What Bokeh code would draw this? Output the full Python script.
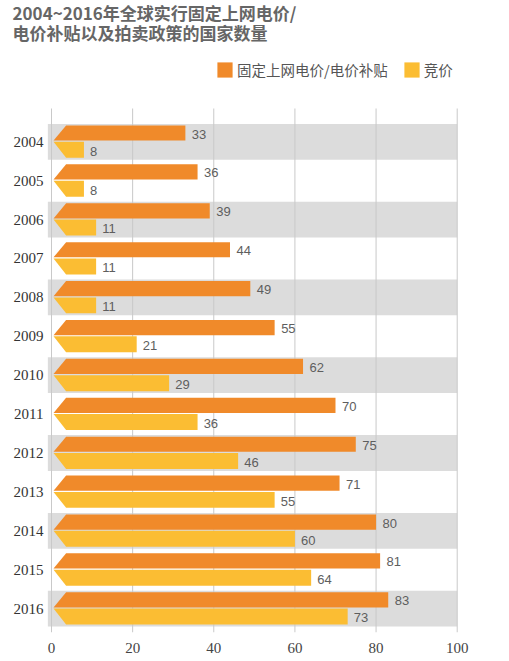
from bokeh.plotting import figure
from bokeh.models import ColumnDataSource, Range1d, FixedTicker, Label, Legend, LegendItem
from bokeh.core.properties import value
from bokeh.embed import file_html
from bokeh.resources import INLINE

# data
years = [2004, 2005, 2006, 2007, 2008, 2009, 2010, 2011, 2012, 2013, 2014, 2015, 2016]
feed_in = [33, 36, 39, 44, 49, 55, 62, 70, 75, 71, 80, 81, 83]
auction = [8, 8, 11, 11, 11, 21, 29, 36, 46, 55, 60, 64, 73]
x_ticks = [0, 20, 40, 60, 80, 100]

title_lines = ["2004~2016年全球实行固定上网电价/", "电价补贴以及拍卖政策的国家数量"]
series_names = ["固定上网电价/电价补贴", "竞价"]

ORANGE = "#F08A2A"
YELLOW = "#FBBD33"
BAND = "#DCDCDC"
GRID = "#C9C9C9"

rows = list(range(len(years)))

# chevron shaped bars: orange is the upper half, yellow the lower half
tip, slant = 0.5, 3.6
o_top, o_bot = -0.42, -0.03
y_top, y_bot = 0.0, 0.41

Y_TOP, Y_BOT = -3.632, 12.614


def bar_shapes(values, top, bot, upper):
    xs, ys = [], []
    for i, v in zip(rows, values):
        if upper:
            xs.append([slant, v, v, tip])
        else:
            xs.append([tip, v, v, slant])
        ys.append([i + top, i + top, i + bot, i + bot])
    return xs, ys


ox, oy = bar_shapes(feed_in, o_top, o_bot, True)
yx, yy = bar_shapes(auction, y_top, y_bot, False)

p = figure(
    frame_width=509,
    frame_height=632,
    x_range=Range1d(-12.57, 112.89),
    y_range=Range1d(Y_BOT, Y_TOP),
    y_axis_location=None,
    toolbar_location=None,
    output_backend="svg",
    min_border=0,
)
p.outline_line_color = None
p.xgrid.grid_line_color = None
p.ygrid.grid_line_color = None

# alternating grey bands
band_rows = [i for i in rows if i % 2 == 0]
p.quad(left=-0.9, right=100, top=[i - 0.46 for i in band_rows],
       bottom=[i + 0.46 for i in band_rows], fill_color=BAND, line_color=None)

# vertical grid lines
p.segment(x0=x_ticks, x1=x_ticks, y0=-0.856, y1=Y_BOT, line_color=GRID, line_width=1)

orange_r = p.patches(xs=ox, ys=oy, fill_color=ORANGE, line_color=None)
yellow_r = p.patches(xs=yx, ys=yy, fill_color=YELLOW, line_color=None)

# value labels
lab = ColumnDataSource(dict(
    x=[v + 1.6 for v in feed_in] + [v + 1.5 for v in auction],
    y=[i - 0.2 for i in rows] + [i + 0.24 for i in rows],
    t=[str(v) for v in feed_in] + [str(v) for v in auction],
))
p.text(x="x", y="y", text="t", source=lab, text_font=value("Liberation Sans"),
       text_font_size="13px", text_color="#5E5E5E", text_baseline="middle")

# year labels
p.text(x=-2.0, y=rows, text=[str(y) for y in years], text_font=value("Liberation Serif"),
       text_font_size="15px", text_color="#333333", text_align="right",
       text_baseline="middle")

# title
for k, line in enumerate(title_lines):
    p.add_layout(Label(x=-9.6, y=-3.331 + k * 0.514, text=line,
                       text_font="Noto Sans CJK SC", text_font_style="bold",
                       text_font_size="17px", text_color="#666666",
                       text_baseline="middle"))

legend = Legend(items=[LegendItem(label=series_names[0], renderers=[orange_r]),
                       LegendItem(label=series_names[1], renderers=[yellow_r])],
                location=(215, 552), orientation="horizontal")
legend.glyph_width = 19
legend.glyph_height = 19
legend.label_height = 19
legend.label_standoff = 3
legend.spacing = 14
legend.padding = 0
legend.margin = 0
legend.border_line_color = None
legend.background_fill_alpha = 0
legend.label_text_font = "Noto Sans CJK SC"
legend.label_text_font_size = "14.5px"
legend.label_text_color = "#555555"
p.add_layout(legend)

p.xaxis.ticker = FixedTicker(ticks=x_ticks)
p.xaxis.axis_line_color = None
p.xaxis.major_tick_line_color = None
p.xaxis.minor_tick_line_color = None
p.xaxis.major_label_standoff = 4
p.xaxis.major_label_text_font = "Liberation Serif"
p.xaxis.major_label_text_font_size = "15px"
p.xaxis.major_label_text_color = "#444444"

open("out.html", "w").write(file_html(p, INLINE))
